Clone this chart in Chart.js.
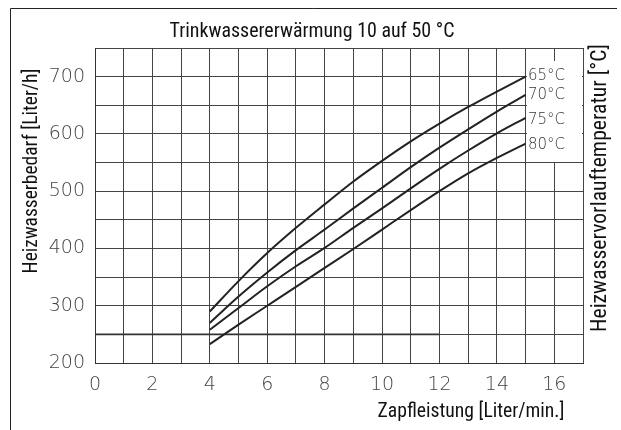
<!DOCTYPE html>
<html>
<head>
<meta charset="utf-8">
<script src="https://cdn.jsdelivr.net/npm/chart.js@4/dist/chart.umd.min.js"></script>
<style>
html,body{margin:0;padding:0;background:#fff;}
#wrap{width:621px;height:430px;position:relative;}
</style>
</head>
<body>
<div id="wrap"><canvas id="c" width="621" height="430"></canvas></div>
<script>
// ---- data ----
const zapfleistung = [4, 5, 6, 7, 8, 9, 10, 11, 12, 13, 14, 15];
const vorlauf65 = [290, 343, 392, 436, 477, 517, 553, 587, 618, 647, 674, 700];
const vorlauf70 = [270, 316, 358, 397, 433, 470, 506, 542, 576, 608, 639, 668];
const vorlauf75 = [258, 296, 334, 369, 401, 436, 470, 505, 539, 571, 601, 628];
const vorlauf80 = [233, 267, 300, 333, 366, 399, 433, 467, 500, 531, 558, 583];
const seriesLabels = ['65°C', '70°C', '75°C', '80°C'];
const refLineX = [0, 12];
const refLineY = [250, 250];
const xTickLabels = [0, 2, 4, 6, 8, 10, 12, 14, 16];
const yTickLabels = [200, 300, 400, 500, 600, 700];
const titleText = 'Trinkwassererwärmung 10 auf 50 °C';
const xTitle = 'Zapfleistung [Liter/min.]';
const yTitle = 'Heizwasserbedarf [Liter/h]';
const y2Title = 'Heizwasservorlauftemperatur [°C]';

const toPts = (xs, ys) => xs.map((x, i) => ({x: x, y: ys[i]}));
const curveStyle = {borderColor: '#222', borderWidth: 2, pointRadius: 0, fill: false, cubicInterpolationMode: 'monotone'};

const lightFont = '"DejaVu Sans", "Open Sans", sans-serif';
const narrowFont = '"Liberation Sans Narrow", "Roboto Condensed", "Roboto", sans-serif';

function fitText(ctx, text, cx, cy, targetW, rot) {
  ctx.save();
  ctx.font = '20px ' + narrowFont;
  const w = ctx.measureText(text).width;
  const size = Math.min(22, 20 * targetW / w);
  ctx.font = size.toFixed(2) + 'px ' + narrowFont;
  ctx.translate(cx, cy);
  if (rot) ctx.rotate(-Math.PI / 2);
  ctx.fillText(text, 0, 0);
  ctx.restore();
}

const deco = {
  id: 'deco',
  beforeDraw(chart) {
    const ctx = chart.ctx;
    ctx.save();
    ctx.fillStyle = '#fff';
    ctx.fillRect(0, 0, chart.width, chart.height);
    ctx.strokeStyle = '#222';
    ctx.lineWidth = 1;
    ctx.beginPath();
    ctx.moveTo(10.5, 430);
    ctx.lineTo(10.5, 8.5);
    ctx.lineTo(617, 8.5);
    ctx.stroke();
    ctx.restore();
  },
  beforeDatasetsDraw(chart) {
    const ctx = chart.ctx;
    const xs = chart.scales.x, ys = chart.scales.y;
    const x1 = Math.round(xs.getPixelForValue(15)) + 1;
    const x2 = Math.round(xs.getPixelForValue(17)) - 1;
    const y1 = Math.round(ys.getPixelForValue(728));
    const y2 = Math.round(ys.getPixelForValue(550)) - 1;
    ctx.save();
    ctx.fillStyle = '#fff';
    ctx.fillRect(x1, y1, x2 - x1, y2 - y1);
    ctx.restore();
  },
  afterDraw(chart) {
    const ctx = chart.ctx;
    ctx.save();
    ctx.fillStyle = '#111';
    ctx.textBaseline = 'middle';
    ctx.textAlign = 'center';
    fitText(ctx, titleText, 312, 32, 285, false);
    fitText(ctx, xTitle, 471, 412, 187, false);
    fitText(ctx, yTitle, 32, 171, 205, true);
    fitText(ctx, y2Title, 601, 188, 288, true);
    ctx.fillStyle = '#333';
    ctx.textAlign = 'left';
    ctx.font = '200 15px ' + lightFont;
    const ly = [76, 95, 120, 145];
    seriesLabels.forEach((t, i) => ctx.fillText(t, 528, ly[i]));
    ctx.restore();
  }
};

new Chart(document.getElementById('c'), {
  type: 'line',
  data: {
    datasets: [
      Object.assign({label: seriesLabels[0], data: toPts(zapfleistung, vorlauf65)}, curveStyle),
      Object.assign({label: seriesLabels[1], data: toPts(zapfleistung, vorlauf70)}, curveStyle),
      Object.assign({label: seriesLabels[2], data: toPts(zapfleistung, vorlauf75)}, curveStyle),
      Object.assign({label: seriesLabels[3], data: toPts(zapfleistung, vorlauf80)}, curveStyle),
      {label: 'ref', data: toPts(refLineX, refLineY), borderColor: '#333', borderWidth: 1.6, pointRadius: 0, tension: 0}
    ]
  },
  options: {
    responsive: false,
    animation: false,
    devicePixelRatio: 1,
    layout: {padding: {left: 0, top: 48, right: 38, bottom: 0}},
    plugins: {legend: {display: false}, tooltip: {enabled: false}, title: {display: false}},
    scales: {
      x: {
        type: 'linear', min: 0, max: 17,
        afterFit(s) { s.height = 67; },
        grid: {color: '#444', lineWidth: 1, drawTicks: false},
        border: {color: '#333', width: 1},
        ticks: {
          stepSize: 1, autoSkip: false, maxRotation: 0, padding: 11,
          color: '#444', font: {family: lightFont, size: 19, weight: '200'},
          callback: v => xTickLabels.includes(v) ? String(v) : ''
        }
      },
      y: {
        type: 'linear', min: 200, max: 750,
        afterFit(s) { s.width = 95; },
        grid: {color: '#444', lineWidth: 1, drawTicks: false},
        border: {color: '#333', width: 1},
        ticks: {
          stepSize: 50, autoSkip: false, padding: 10,
          color: '#444', font: {family: lightFont, size: 19, weight: '200'},
          callback: v => yTickLabels.includes(v) ? String(v) : ''
        }
      }
    }
  },
  plugins: [deco]
});
</script>
</body>
</html>
